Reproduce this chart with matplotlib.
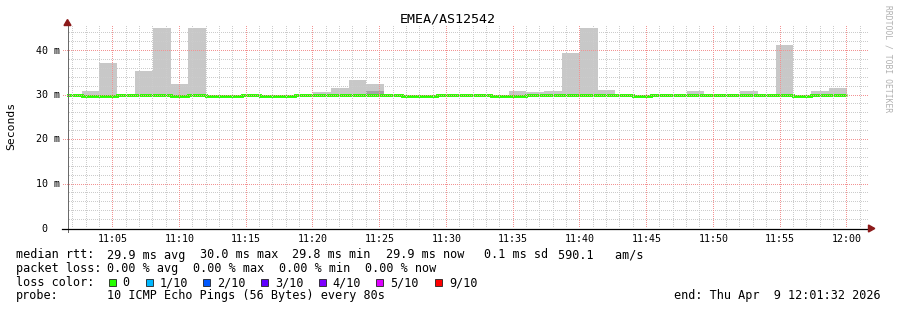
import numpy as np
import matplotlib
matplotlib.use("Agg")
import matplotlib.pyplot as plt
from matplotlib.patches import Polygon, Rectangle
from matplotlib.lines import Line2D
from matplotlib.transforms import blended_transform_factory

# ---------------- data ----------------
title = "EMEA/AS12542"
# bins of 80 s starting 11:01:20 (minutes after 11:00)
bin_start = 1 + 20 / 60
bin_width = 80 / 60
median_ms = [30.0, 29.8, 29.8, 30.0, 30.0, 30.0, 29.8, 30.0, 29.8, 29.8,
             30.0, 29.8, 29.8, 29.9, 29.9, 30.0, 30.0, 30.0, 30.0, 29.8,
             29.8, 30.0, 30.0, 30.0, 29.8, 29.8, 30.0, 30.0, 30.0, 30.0,
             30.0, 30.0, 29.8, 29.9, 30.0, 30.0, 30.0, 30.0, 30.0, 30.0,
             29.9, 29.8, 30.0, 30.0]
smoke_lo = [29.7] * 42 + [29.6, 29.7]
smoke_hi = [30.0, 30.8, 37.1, 30.3, 35.4, 45.0, 32.4, 45.0, 30.0, 30.0,
            30.1, 30.0, 30.0, 30.1, 30.6, 31.5, 33.3, 32.4, 30.1, 29.9,
            29.9, 30.1, 30.1, 30.2, 29.9, 30.8, 30.6, 30.8, 39.4, 45.0,
            31.2, 30.0, 30.1, 30.3, 30.0, 30.8, 30.0, 30.3, 31.0, 30.0,
            41.3, 29.9, 30.8, 31.5]
smoke_dark = [29.7] * 17 + [31.0] + [29.7] * 5 + [30.2] + [29.7] * 4 + [30.3] \
    + [29.7] * 3 + [30.1] + [29.7] * 9 + [30.1, 29.7]
x_tick_pos = [5, 10, 15, 20, 25, 30, 35, 40, 45, 50, 55, 60]
x_tick_labels = ["11:05", "11:10", "11:15", "11:20", "11:25", "11:30",
                 "11:35", "11:40", "11:45", "11:50", "11:55", "12:00"]
x_minor_pos = [m for m in range(2, 62) if m % 5]
y_tick_pos = [0, 10, 20, 30, 40]
y_tick_labels = ["0", "10 m", "20 m", "30 m", "40 m"]
y_minor_pos = [v for v in range(2, 46, 2) if v % 10]
view_start = 1 + 32 / 60
view_end = 61 + 32 / 60

loss_labels = ["0", "1/10", "2/10", "3/10", "4/10", "5/10", "9/10"]
loss_colors = ["#26ff00", "#00b8ff", "#0059ff", "#5e00ff", "#7e00ff", "#dd00ff", "#ff0000"]

# ---------------- layout helpers ----------------
W, H = 897, 310
def fx(p): return p / W
def fy(p): return 1 - p / H

MONO = "DejaVu Sans Mono"
GRID_RGB = (0.80, 0.80, 0.80)
MGRID_RGB = (0.95, 0.58, 0.58)
ARROW = "#8c1a1a"

fig = plt.figure(figsize=(W / 100, H / 100), dpi=100)
fig.patch.set_facecolor("white")

ax_left, ax_right, ax_top, ax_bot = 66.5, 867.2, 26.0, 228.5
ax = fig.add_axes([fx(ax_left), fy(ax_bot), (ax_right - ax_left) / W, (ax_bot - ax_top) / H])
ax.set_xlim(view_start, view_end)
ax.set_ylim(0, (ax_bot - ax_top) / 4.45)

n = len(median_ms)
edges = [bin_start + i * bin_width for i in range(n + 1)]
lefts = edges[:-1]

ax.bar(lefts, [h - l for h, l in zip(smoke_hi, smoke_lo)], bottom=smoke_lo,
       width=bin_width, align="edge", color="#c8c8c8", linewidth=0, zorder=1)
ax.bar(lefts, [d - l for d, l in zip(smoke_dark, smoke_lo)], bottom=smoke_lo,
       width=bin_width, align="edge", color="#a4a4a4", linewidth=0, zorder=1.1)
ax.stairs(median_ms, edges, color=loss_colors[0], linewidth=2.1, zorder=2, baseline=None)

ax.set_xticks(x_tick_pos)
ax.set_xticklabels(x_tick_labels, fontfamily=MONO, fontsize=7.2)
ax.set_yticks(y_tick_pos)
ax.set_yticklabels([])
ax.tick_params(axis="both", which="both", length=0)
ax.tick_params(axis="x", pad=3.6, colors="black")
for s in ax.spines.values():
    s.set_visible(False)

# ---- dotted rrdtool-style grid, rendered pixel-exact on top of the data ----
img = np.zeros((H, W, 4))
top_row, bot_row = int(ax_top), int(ax_bot) - 1
left_col, right_col = 67, int(ax_right)

def vdots(xv, rgb):
    xd = ax.transData.transform((xv, 0))[0]
    c = int(np.floor(xd))
    for r in range(top_row, bot_row + 1):
        if r % 2 == 0:
            img[r, c, :3] = rgb
            img[r, c, 3] = 1.0

def hdots(yv, rgb, start):
    yd = ax.transData.transform((view_start, yv))[1]
    r = int(np.floor(H - yd))
    for c in range(start, right_col + 1):
        if c % 2 == 1:
            img[r, c, :3] = rgb
            img[r, c, 3] = 1.0

for m in x_minor_pos:
    vdots(m, GRID_RGB)
for v in y_minor_pos:
    hdots(v, GRID_RGB, left_col + 1)
for m in x_tick_pos:
    vdots(m, MGRID_RGB)
for v in y_tick_pos[1:]:
    hdots(v, MGRID_RGB, 63)
fig.figimage(img, 0, 0, origin="upper", zorder=5)

# y tick labels (rrdtool style: number right aligned, unit suffix)
btr = blended_transform_factory(fig.transFigure, ax.transData)
for v, lab in zip(y_tick_pos, y_tick_labels):
    xr = 59.8 if " " in lab else 47.6
    ax.text(fx(xr), v, lab, transform=btr, ha="right", va="center",
            fontsize=7.2, fontfamily=MONO, color="black", clip_on=False)

# axis lines and arrows
fig.add_artist(Line2D([fx(67.5), fx(67.5)], [fy(24), fy(231.5)], color="#6a6a6a",
                      linewidth=0.72, zorder=6))
fig.add_artist(Line2D([fx(62), fx(869)], [fy(228.5), fy(228.5)], color="black",
                      linewidth=0.9, zorder=6))
fig.add_artist(Polygon([(fx(64), fy(25.5)), (fx(71), fy(25.5)), (fx(67.5), fy(19.5))],
                       closed=True, color=ARROW, transform=fig.transFigure, zorder=6))
fig.add_artist(Polygon([(fx(868.5), fy(225)), (fx(868.5), fy(232)), (fx(874.8), fy(228.5))],
                       closed=True, color=ARROW, transform=fig.transFigure, zorder=6))

# titles
fig.text(fx(448), fy(19.5), title, ha="center", va="center", fontsize=9.6, fontfamily=MONO)
fig.text(fx(11), fy(126), "Seconds", ha="center", va="center", rotation=90,
         fontsize=8.2, fontfamily=MONO)
fig.text(fx(887.5), fy(59), "RRDTOOL / TOBI OETIKER", ha="center", va="center",
         rotation=270, fontsize=5.8, fontfamily=MONO, color="#b0b0b0")

# legend
LF = 8.5
def lt(x, y, s, **kw):
    fig.text(fx(x), fy(y), s, ha="left", va="center", fontsize=LF, fontfamily=MONO, **kw)

r1, r2, r3, r4 = 255, 268.5, 282.5, 296
lt(15.5, r1, "median rtt:")
for x, s in [(106.8, "29.9 ms avg"), (199.5, "30.0 ms max"), (292.2, "29.8 ms min"),
             (386.2, "29.9 ms now"), (483.8, "0.1 ms sd"), (557.8, "590.1   am/s")]:
    lt(x, r1, s)
lt(15.5, r2, "packet loss:")
for x, s in [(106.8, "0.00 % avg"), (192.8, "0.00 % max"), (278.8, "0.00 % min"),
             (365.2, "0.00 % now")]:
    lt(x, r2, s)
lt(15.5, r3, "loss color:")
sq_x = [109, 145.7, 202.7, 260.7, 318.7, 376, 435]
lab_x = [122.3, 160.0, 217.3, 275.0, 332.6, 390.0, 449.0]
for sx, lx, lab, col in zip(sq_x, lab_x, loss_labels, loss_colors):
    fig.add_artist(Rectangle((fx(sx), fy(r3 + 3.5)), 7 / W, 7 / H, facecolor=col,
                             edgecolor="#202020", linewidth=0.6, transform=fig.transFigure))
    lt(lx, r3, lab)
lt(15.5, r4, "probe:")
lt(106.8, r4, "10 ICMP Echo Pings (56 Bytes) every 80s")
fig.text(fx(881), fy(r4), "end: Thu Apr  9 12:01:32 2026", ha="right", va="center",
         fontsize=LF, fontfamily=MONO)

fig.savefig("out.png", dpi=100, facecolor="white")
